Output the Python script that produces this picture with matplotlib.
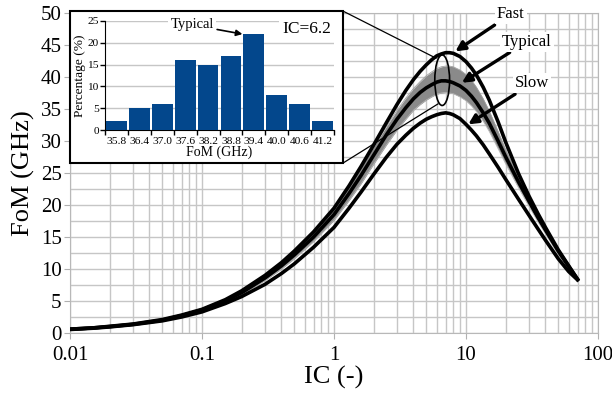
import matplotlib
matplotlib.use("Agg")
import matplotlib.pyplot as plt
import matplotlib.ticker as mticker
from matplotlib.patches import Ellipse, Rectangle
import numpy as np

# main chart: FoM vs inversion coefficient
ic = [0.01, 0.015, 0.02, 0.03, 0.05, 0.07, 0.1, 0.15, 0.2, 0.3, 0.4, 0.5, 0.7,
      1, 1.3, 1.6, 2, 2.5, 3, 3.5, 4, 4.5, 5, 5.5, 6, 6.5, 7, 7.5, 8, 9, 10,
      11, 12, 13.5, 15, 17.5, 20, 25, 30, 35, 40, 50, 60, 70]
fom_typical = [0.6, 0.8, 1.0, 1.35, 2.0, 2.7, 3.6, 5.0, 6.3, 8.6, 10.5, 12.2,
               15.0, 18.5, 21.8, 24.6, 27.8, 31.0, 33.4, 35.2, 36.6, 37.6, 38.3,
               38.8, 39.2, 39.4, 39.4, 39.3, 39.1, 38.6, 37.9, 37.0, 36.0, 34.4,
               32.8, 30.0, 27.5, 23.6, 20.6, 18.1, 16.1, 12.8, 10.4, 8.4]
fom_fast = [0.6, 0.8, 1.05, 1.4, 2.1, 2.8, 3.7, 5.2, 6.6, 9.0, 11.0, 12.8, 15.8,
            19.5, 23.0, 26.0, 29.4, 32.9, 35.7, 37.9, 39.6, 40.9, 41.9, 42.7,
            43.3, 43.6, 43.8, 43.8, 43.7, 43.2, 42.4, 41.4, 40.3, 38.4, 36.4,
            33.0, 29.8, 24.9, 21.4, 18.7, 16.5, 13.0, 10.5, 8.4]
fom_slow = [0.55, 0.75, 0.95, 1.3, 1.9, 2.5, 3.3, 4.6, 5.7, 7.6, 9.3, 10.8,
            13.4, 16.5, 19.5, 22.0, 24.8, 27.5, 29.5, 30.9, 32.0, 32.8, 33.4,
            33.8, 34.1, 34.3, 34.4, 34.3, 34.1, 33.5, 32.6, 31.7, 30.8, 29.4,
            28.0, 25.9, 24.0, 20.9, 18.4, 16.3, 14.5, 11.6, 9.6, 8.3]
# monte carlo spread (grey band)
mc_upper = [0.65, 0.85, 1.1, 1.45, 2.15, 2.85, 3.8, 5.3, 6.7, 9.1, 11.0, 12.9,
            15.9, 19.6, 23.0, 25.9, 29.1, 32.3, 34.8, 36.7, 38.2, 39.3, 40.2,
            40.8, 41.3, 41.6, 41.7, 41.7, 41.6, 41.1, 40.4, 39.5, 38.4, 36.6,
            34.7, 31.5, 28.6, 24.4, 21.3, 18.6, 16.6, 13.2, 10.7, 8.6]
mc_lower = [0.55, 0.75, 0.95, 1.3, 1.95, 2.6, 3.45, 4.8, 6.0, 8.2, 10.0, 11.6,
            14.3, 17.6, 20.7, 23.3, 26.4, 29.4, 31.7, 33.4, 34.8, 35.7, 36.4,
            36.9, 37.3, 37.5, 37.6, 37.5, 37.4, 36.9, 36.3, 35.5, 34.6, 33.1,
            31.5, 28.8, 26.4, 22.7, 19.8, 17.4, 15.5, 12.2, 9.9, 8.2]

# inset histogram at IC=6.2
hist_bins = ["35.8", "36.4", "37.0", "37.6", "38.2", "38.8", "39.4", "40.0",
             "40.6", "41.2"]
hist_pct = [2, 5, 6, 16, 15, 17, 22, 8, 6, 2]

plt.rcParams["font.family"] = ["Liberation Serif", "DejaVu Serif"]

W, H = 612, 395
fig = plt.figure(figsize=(W / 100, H / 100), dpi=100)
ax = fig.add_axes([70 / W, 1 - 333 / H, 528 / W, 320 / H])

ax.fill_between(ic, mc_lower, mc_upper, color="#8a8a8a", lw=0, zorder=2)
ax.plot(ic, mc_upper, color="#a0a0a0", lw=0.6, zorder=2)
ax.plot(ic, mc_lower, color="#b5b5b5", lw=0.6, zorder=2)
for ys in (fom_fast, fom_typical, fom_slow):
    ax.plot(ic, ys, color="black", lw=2.6, zorder=3)

ax.set_xscale("log")
ax.set_xlim(0.01, 100)
ax.set_ylim(0, 50)
ax.set_yticks(range(0, 51, 5))
ax.yaxis.set_minor_locator(mticker.MultipleLocator(2.5))
ax.xaxis.set_minor_locator(mticker.LogLocator(subs=np.arange(2, 10)))
ax.xaxis.set_major_formatter(mticker.FuncFormatter(lambda v, _: f"{v:g}"))
ax.xaxis.set_minor_formatter(mticker.NullFormatter())
ax.grid(which="both", color="#c6c6c6", lw=1.0, zorder=0)
ax.set_axisbelow(True)
ax.tick_params(which="minor", length=0)
ax.tick_params(which="major", length=4, color="#b0b0b0", labelsize=15, pad=2)
ax.tick_params(axis="x", pad=5)
for sp in ax.spines.values():
    sp.set_color("#b8b8b8")
ax.set_xlabel("IC (-)", fontsize=19, labelpad=1)
ax.set_ylabel("FoM (GHz)", fontsize=19, labelpad=4)

# labels with arrows
lab_kw = dict(ha="center", va="center", fontsize=12, annotation_clip=False,
              bbox=dict(fc="white", ec="none", pad=1.5), zorder=7)
arr_kw = dict(arrowstyle="-|>", color="black", lw=2.4, mutation_scale=14,
              shrinkA=1, shrinkB=0)
ax.annotate("Fast", xy=(8.3, 44.0), xytext=(21.8, 49.8), arrowprops=arr_kw, **lab_kw)
ax.annotate("Typical", xy=(9.3, 39.1), xytext=(28.8, 45.5), arrowprops=arr_kw, **lab_kw)
ax.annotate("Slow", xy=(10.4, 32.6), xytext=(31.5, 39.0), arrowprops=arr_kw, **lab_kw)

# ellipse marking the histogram slice
cx, cy = ax.transAxes.inverted().transform(ax.transData.transform((6.6, 39.5)))
ax.add_patch(Ellipse((cx, cy), 0.028, 0.158, transform=ax.transAxes,
                     fill=False, ec="black", lw=1.2, zorder=6))

# inset frame and connector lines
ax.add_patch(Rectangle((0, 0.531), 0.517, 0.475, transform=ax.transAxes,
                       fc="white", ec="black", lw=1.5, zorder=8, clip_on=False))
ax.plot([0.517, 0.693], [1.006, 0.859], transform=ax.transAxes, color="black",
        lw=0.9, zorder=6, clip_on=False)
ax.plot([0.517, 0.697], [0.531, 0.716], transform=ax.transAxes, color="black",
        lw=0.9, zorder=6, clip_on=False)

iax = fig.add_axes([105 / W, 1 - 130 / H, 229 / W, 109 / H])
pos = np.arange(len(hist_pct))
iax.bar(pos, hist_pct, width=0.91, color="#03478C", zorder=3)
iax.set_xlim(-0.5, len(hist_pct) - 0.5)
iax.set_ylim(0, 25)
iax.set_yticks(range(0, 26, 5))
iax.set_xticks(pos)
iax.set_xticklabels(hist_bins)
iax.set_xticks(np.arange(-0.5, len(hist_pct)), minor=True)
iax.tick_params(axis="x", which="major", length=0, labelsize=8.2, pad=5)
iax.tick_params(axis="x", which="minor", length=3.5, width=1)
iax.tick_params(axis="y", length=3.5, width=1, labelsize=8.2, pad=1)
iax.grid(axis="y", color="#c6c6c6", lw=1.0, zorder=0)
iax.set_axisbelow(True)
iax.spines["top"].set_visible(False)
iax.spines["right"].set_visible(False)
iax.set_xlabel("FoM (GHz)", fontsize=10, labelpad=0)
iax.set_ylabel("Percentage (%)", fontsize=9.6, labelpad=1)
iax.annotate("Typical", xy=(5.5, 22.0), xytext=(3.3, 24.1), ha="center",
             va="center", fontsize=10.5, annotation_clip=False,
             bbox=dict(fc="white", ec="none", pad=1.5),
             arrowprops=dict(arrowstyle="-|>", color="black", lw=1.2,
                             mutation_scale=9, shrinkA=1, shrinkB=0))
iax.text(8.3, 23.1, "IC=6.2", ha="center", va="center", fontsize=12.5,
         bbox=dict(fc="white", ec="none", pad=2), zorder=5)

fig.savefig("out.png", dpi=100, facecolor="white")
